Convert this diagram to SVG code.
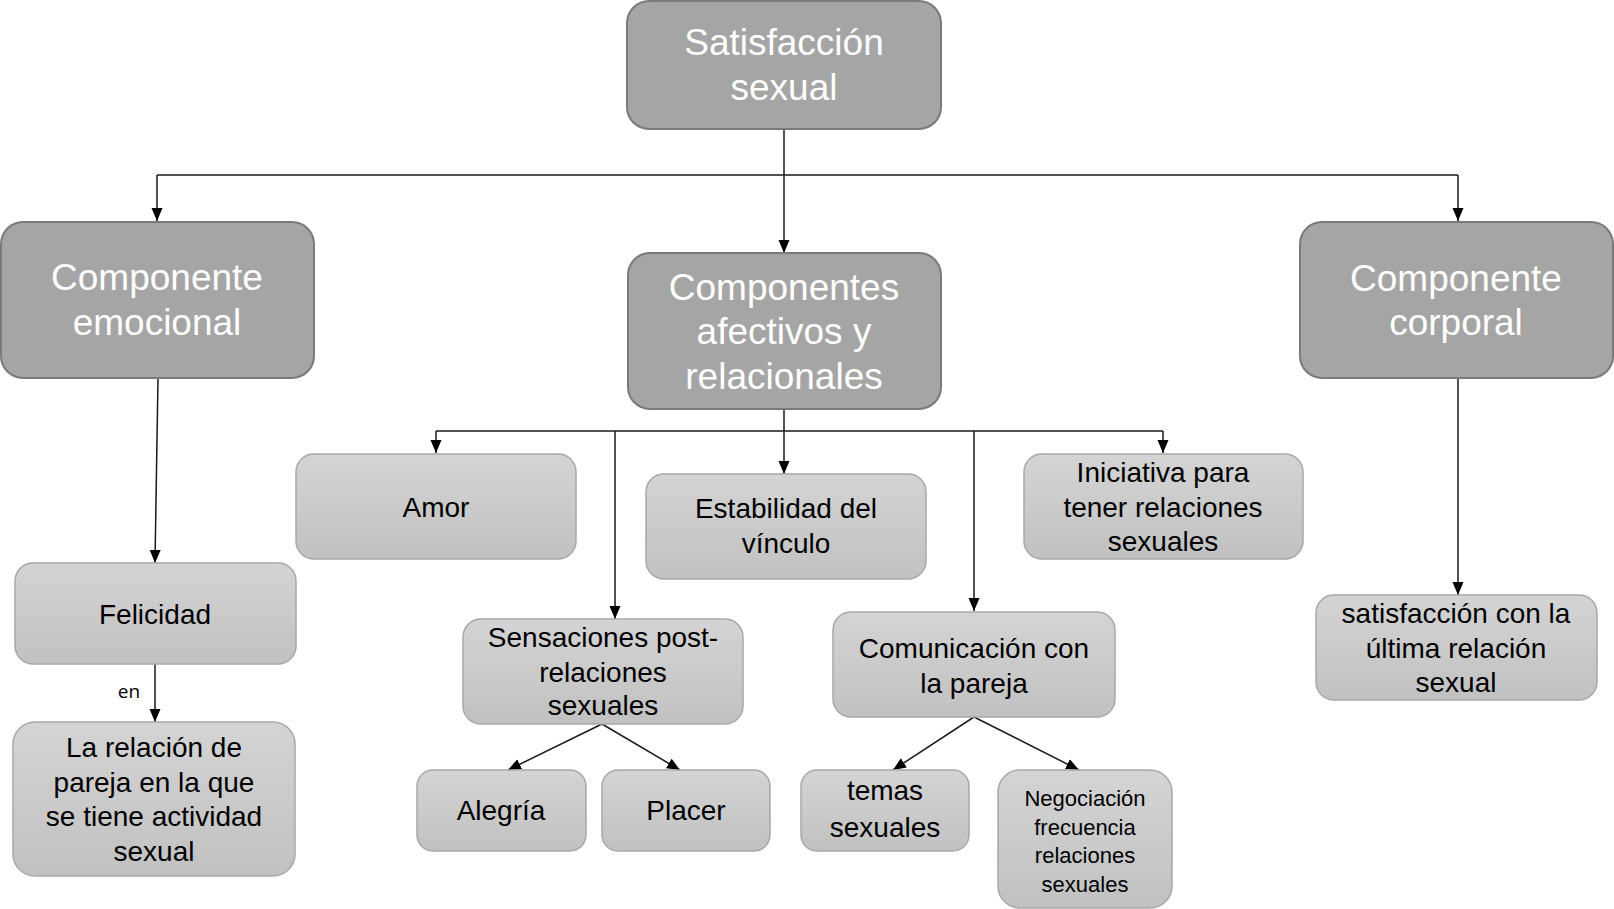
<svg xmlns="http://www.w3.org/2000/svg" width="1614" height="909" viewBox="0 0 1614 909">
<style>
.dark rect{fill:#a5a5a5;stroke:#7a7a7a;stroke-width:2}
.light rect{fill:url(#lg);stroke:#a8a8a8;stroke-width:1.5}
.dark text{font-family:"Liberation Sans",Arial,sans-serif;font-size:37px;fill:#ffffff;text-anchor:middle}
.light text{font-family:"Liberation Sans",Arial,sans-serif;font-size:28px;fill:#000000;text-anchor:middle}
.light text.sm{font-size:22px}
#connectors path{fill:none;stroke:#1a1a1a;stroke-width:1.5}
#connectors path.arr{marker-end:url(#ah)}
.lbl{font-family:"Open Sans",sans-serif;font-size:19px;fill:#000}
</style>
<defs>
<linearGradient id="lg" x1="0" y1="0" x2="0" y2="1">
<stop offset="0" stop-color="#d4d4d4"/>
<stop offset="1" stop-color="#c1c1c1"/>
</linearGradient>
<marker id="ah" markerUnits="userSpaceOnUse" markerWidth="14" markerHeight="14" viewBox="0 0 14 14" refX="13" refY="7" orient="auto">
<path d="M0,1.5 L13,7 L0,12.5 Z" fill="#000"/>
</marker>
</defs>
<rect width="1614" height="909" fill="#ffffff"/>
<g id="connectors">
<path class="arr" d="M784,129 V253"/>
<path d="M157,175 H1458"/>
<path class="arr" d="M157,175 V221"/>
<path class="arr" d="M1458,175 V221"/>
<path class="arr" d="M158,378 L155,563"/>
<path class="arr" d="M155,664 V722"/>
<path class="arr" d="M1458,378 V595"/>
<path d="M784,409 V431"/>
<path d="M436,431 H1163"/>
<path class="arr" d="M436,431 V453"/>
<path class="arr" d="M615,431 V619"/>
<path class="arr" d="M784,431 V474"/>
<path class="arr" d="M974,431 V611"/>
<path class="arr" d="M1163,431 V453"/>
<path class="arr" d="M602,724 L508,770"/>
<path class="arr" d="M602,724 L680,770"/>
<path class="arr" d="M974,717 L893,770"/>
<path class="arr" d="M974,717 L1079,770"/>
<text class="lbl" x="129" y="698" text-anchor="middle">en</text>
</g>
<g id="n-satisfaccion" class="dark">
<rect x="627" y="1" width="314" height="128" rx="22"/>
<text x="784" y="55">Satisfacción</text>
<text x="784" y="100">sexual</text>
</g>
<g id="n-emocional" class="dark">
<rect x="1" y="222" width="313" height="156" rx="22"/>
<text x="157" y="290">Componente</text>
<text x="157" y="335">emocional</text>
</g>
<g id="n-afectivos" class="dark">
<rect x="628" y="253" width="313" height="156" rx="22"/>
<text x="784" y="300">Componentes</text>
<text x="784" y="344">afectivos y</text>
<text x="784" y="389">relacionales</text>
</g>
<g id="n-corporal" class="dark">
<rect x="1300" y="222" width="313" height="156" rx="22"/>
<text x="1456" y="291">Componente</text>
<text x="1456" y="335">corporal</text>
</g>
<g id="n-amor" class="light">
<rect x="296" y="454" width="280" height="105" rx="18"/>
<text x="436" y="517">Amor</text>
</g>
<g id="n-estabilidad" class="light">
<rect x="646" y="474" width="280" height="105" rx="18"/>
<text x="786" y="518">Estabilidad del</text>
<text x="786" y="553">vínculo</text>
</g>
<g id="n-iniciativa" class="light">
<rect x="1024" y="454" width="279" height="105" rx="18"/>
<text x="1163" y="482">Iniciativa para</text>
<text x="1163" y="517">tener relaciones</text>
<text x="1163" y="551">sexuales</text>
</g>
<g id="n-felicidad" class="light">
<rect x="15" y="563" width="281" height="101" rx="18"/>
<text x="155" y="624">Felicidad</text>
</g>
<g id="n-relacion" class="light">
<rect x="13" y="722" width="282" height="154" rx="22"/>
<text x="154" y="757">La relación de</text>
<text x="154" y="792">pareja en la que</text>
<text x="154" y="826">se tiene actividad</text>
<text x="154" y="861">sexual</text>
</g>
<g id="n-sensaciones" class="light">
<rect x="463" y="619" width="280" height="105" rx="18"/>
<text x="603" y="647">Sensaciones post-</text>
<text x="603" y="682">relaciones</text>
<text x="603" y="715">sexuales</text>
</g>
<g id="n-comunicacion" class="light">
<rect x="833" y="612" width="282" height="105" rx="18"/>
<text x="974" y="658">Comunicación con</text>
<text x="974" y="693">la pareja</text>
</g>
<g id="n-ultima" class="light">
<rect x="1316" y="595" width="281" height="105" rx="18"/>
<text x="1456" y="623">satisfacción con la</text>
<text x="1456" y="658">última relación</text>
<text x="1456" y="692">sexual</text>
</g>
<g id="n-alegria" class="light">
<rect x="417" y="770" width="169" height="81" rx="16"/>
<text x="501" y="820">Alegría</text>
</g>
<g id="n-placer" class="light">
<rect x="602" y="770" width="168" height="81" rx="16"/>
<text x="686" y="820">Placer</text>
</g>
<g id="n-temas" class="light">
<rect x="801" y="770" width="168" height="81" rx="16"/>
<text x="885" y="800">temas</text>
<text x="885" y="837">sexuales</text>
</g>
<g id="n-negociacion" class="light">
<rect x="998" y="770" width="174" height="138" rx="22"/>
<text class="sm" x="1085" y="806">Negociación</text>
<text class="sm" x="1085" y="835">frecuencia</text>
<text class="sm" x="1085" y="863">relaciones</text>
<text class="sm" x="1085" y="892">sexuales</text>
</g>
</svg>
